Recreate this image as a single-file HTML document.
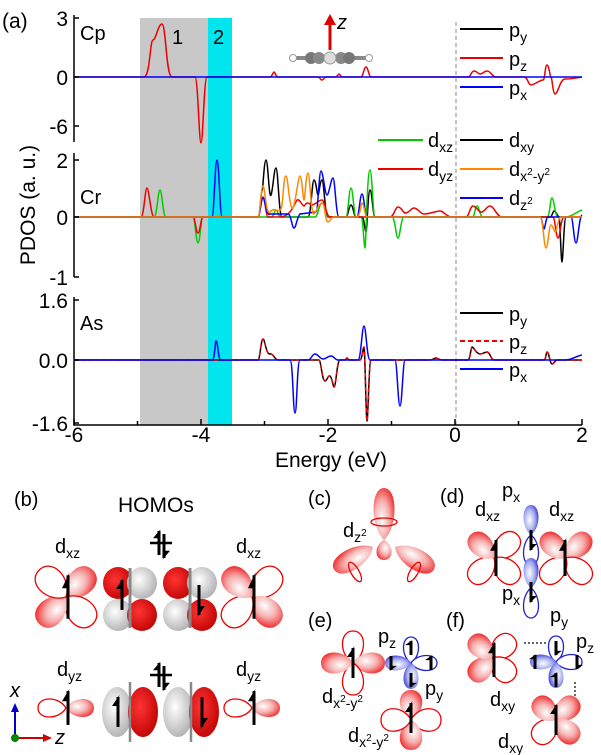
<!DOCTYPE html>
<html><head><meta charset="utf-8"><style>
html,body{margin:0;padding:0;background:#fff}
svg{display:block}
text{font-family:"Liberation Sans",Arial,sans-serif;fill:#000}
</style></head><body>
<svg width="601" height="755" viewBox="0 0 601 755" xmlns="http://www.w3.org/2000/svg" xmlns:xlink="http://www.w3.org/1999/xlink">
<defs>
<radialGradient id="rg" cx="0.4" cy="0.6" r="0.7"><stop offset="0" stop-color="#fff"/><stop offset="0.5" stop-color="#f6b0b0"/><stop offset="1" stop-color="#e22"/></radialGradient>
<radialGradient id="bg" cx="0.4" cy="0.5" r="0.7"><stop offset="0" stop-color="#fff"/><stop offset="0.5" stop-color="#aab0f0"/><stop offset="1" stop-color="#22c"/></radialGradient>
<radialGradient id="gg" cx="0.4" cy="0.4" r="0.7"><stop offset="0" stop-color="#fff"/><stop offset="1" stop-color="#aaa"/></radialGradient>
<radialGradient id="dr" cx="0.4" cy="0.4" r="0.7"><stop offset="0" stop-color="#f33"/><stop offset="1" stop-color="#b00"/></radialGradient>
<path id="l38" d="M0 0C18 -9.5 18 -38 0 -38C-18 -38 -18 -9.5 0 0Z"/>
<path id="l28" d="M0 0C12 -7 12 -28 0 -28C-12 -28 -12 -7 0 0Z"/>
<path id="l52" d="M0 0C14 -13 14 -52 0 -52C-14 -52 -14 -13 0 0Z"/>
<path id="l45" d="M0 0C14 -11 14 -45 0 -45C-14 -45 -14 -11 0 0Z"/>
<path id="l20" d="M0 0C10 -5 10 -20 0 -20C-10 -20 -10 -5 0 0Z"/>
<path id="l33" d="M0 0C15 -8 15 -33 0 -33C-15 -33 -15 -8 0 0Z"/>
<path id="l30p" d="M0 0C10 -7.5 10 -30 0 -30C-10 -30 -10 -7.5 0 0Z"/>
<path id="l32" d="M0 0C14 -8 14 -32 0 -32C-14 -32 -14 -8 0 0Z"/>
<path id="l30" d="M0 0C15 -7.5 15 -30 0 -30C-15 -30 -15 -7.5 0 0Z"/>
<path id="l26" d="M0 0C10 -6.5 10 -26 0 -26C-10 -26 -10 -6.5 0 0Z"/>
<g id="su"><line x1="0" y1="-15" x2="0" y2="15" stroke="#000" stroke-width="3"/><polygon points="1.5,-17 -6,-6 -1.5,-6" fill="#000"/></g>
<g id="sd"><line x1="0" y1="-15" x2="0" y2="15" stroke="#000" stroke-width="3"/><polygon points="-1.5,17 6,6 1.5,6" fill="#000"/></g>
</defs>
<rect x="140" y="18" width="68" height="407" fill="#c8c8c8"/>
<rect x="208" y="18" width="24" height="407" fill="#00e5ee"/>
<line x1="456" y1="22" x2="456" y2="425" stroke="#888" stroke-width="1" stroke-dasharray="4,3"/>
<g fill="none" stroke-width="1.5">
<path stroke="#e00" d="M74 77 L144 77 C150 77 150 40 153 40 C156 40 158 24 162 24 C166 24 166 77 172 77 L195 77 C198 77 199 143 201 143 C203 143 204 77 207 77 L270 77 C272 77 273 72 274 72 C275 72 276 77 278 77 L318 77 C320 77 320 80 322 80 C324 80 324 77 326 77 L336 77 L339 74 L342 77 L361 77 C363 77 364 67 366 67 C368 67 369 77 371 77 L468 77 C471 77 471 71 474 71 C477 71 478 74 480 74 C483 74 484 71 487 71 C491 71 492 77 496 77 L524 77 C528 77 528 85 531 85 C534 85 540 80 543 80 C545 80 545 65 547 65 C549 65 550 77 551 77 C552 77 553 94 555 94 C558 94 560 79 565 79 C572 79 576 78 582 77"/>
<path stroke="#00f" d="M74 77 H582"/>
<path stroke="#000" d="M74 217 L258 217 C260 217 261 191 262 191 C263 191 264 160 266 160 C268 160 269 200 271 195 C273 190 274 168 276 168 C278 168 279 217 282 217 L308 217 C311 217 312 180 314 180 C316 180 317 195 318 195 C319 195 320 180 322 180 C324 180 325 217 328 217 L346 217 C348 217 349 205 351 205 C353 205 354 217 356 217 L362 217 C364 217 365 232 366 232 C367 232 368 190 370 190 C372 190 373 217 375 217 L550 217 C552 217 553 211 554 211 C556 211 558 217 559 217 C560 217 561 262 562 262 C563 262 564 217 566 217 L582 217"/>
<path stroke="#0c0" d="M74 217 L154 217 C157 217 158 190 160 190 C162 190 163 217 166 217 L193 217 C195 217 196 243 198 243 C200 243 201 217 203 217 L271 217 C274 217 274 210 276 210 C278 210 278 217 281 217 L315 217 C318 217 319 203 322 203 C325 203 326 217 329 217 L346 217 C348 217 349 188 351 188 C353 188 354 217 356 217 L361 217 C363 217 364 248 365 248 C366 248 367 170 370 170 C372 170 373 217 375 217 L392 217 C395 217 396 238 398 238 C400 238 401 217 404 217 L472 217 C475 217 475 206 477 206 C479 206 480 217 483 217 L547 217 C550 217 550 198 552 198 C554 198 555 217 558 217 L565 217 C572 217 576 212 582 210"/>
<path stroke="#e00" d="M74 217 L141 217 C144 217 145 188 147 188 C149 188 151 217 154 217 L193 217 C195 217 196 233 198 233 C200 233 201 217 203 217 L258 217 C260 217 261 197 263 197 C265 197 266 217 268 217 L280 217 C290 217 294 205 297 200 C300 198 303 209 305 205 C307 202 308 203 310 204 C314 207 318 200 322 200 C325 200 326 217 330 217 L390 217 C394 217 395 207 398 207 C402 207 403 214 406 213 C410 212 411 208 414 208 C418 208 420 214 424 214 C430 214 436 211 440 211 C444 211 446 217 452 217 L466 217 C469 217 470 206 473 206 C476 206 479 213 482 212 C485 211 487 206 490 206 C494 206 497 217 502 217 L553 217 C555 217 556 238 558 238 C560 238 561 217 564 217 L582 217"/>
<path stroke="#00f" d="M74 217 L212 217 C214 217 215 160 217 160 C219 160 220 217 222 217 L258 217 C260 217 261 198 263 198 C265 198 266 217 270 214 L288 214 C291 214 292 228 294 228 C296 228 297 217 300 214 L316 212 C318 212 319 171 321 171 C323 171 325 195 327 195 C329 195 331 178 333 178 C335 178 336 217 339 217 L357 217 C359 217 360 194 362 194 C364 194 365 217 367 217 L540 217 C542 217 543 229 544 229 C545 229 546 217 548 217 L571 217 C573 217 574 243 576 243 C578 243 579 217 582 215"/>
<path stroke="#f80" d="M74 217 L258 217 C260 217 261 186 263 186 C265 186 266 217 270 212 C276 205 280 217 282 205 C284 186 284 176 286 176 C288 176 289 205 292 208 C295 210 298 176 300 176 C302 176 303 200 304 200 C305 200 306 173 308 173 C310 173 311 217 314 214 C317 211 319 203 322 203 C325 203 325 222 328 222 C330 222 331 217 334 217 L357 217 C360 217 361 203 362 203 C364 203 365 217 367 217 L540 217 C543 217 544 248 546 248 C548 248 549 225 551 225 C553 225 554 232 555 232 C557 232 558 217 561 217 L582 217"/>
<path stroke="#000" d="M74 360 L258 360 C260 360 261 339 263 339 C265 339 266 355 270 354 C273 353 275 360 278 360 L319 360 C321 360 322 381 325 381 C327 381 328 375 330 376 C332 377 333 387 334 387 C336 387 337 360 340 360 L345 360 L347 358 L349 360 L360 360 C362 360 363 347 364 347 C365 347 366 421 367 421 C368 421 369 360 371 360 L430 360 C433 360 434 358 436 358 C438 358 439 360 442 360 L468 360 C470 360 471 347 472 347 C474 347 476 354 480 354 C483 354 485 352 487 352 C490 352 491 360 494 360 L544 360 C546 360 546 352 547 352 C549 352 550 364 552 364 C554 364 555 360 557 360 L582 360"/>
<path stroke="#e00" stroke-dasharray="4,3" d="M74 360 L258 360 C260 360 261 339 263 339 C265 339 266 355 270 354 C273 353 275 360 278 360 L319 360 C321 360 322 381 325 381 C327 381 328 375 330 376 C332 377 333 387 334 387 C336 387 337 360 340 360 L345 360 L347 358 L349 360 L360 360 C362 360 363 347 364 347 C365 347 366 421 367 421 C368 421 369 360 371 360 L430 360 C433 360 434 358 436 358 C438 358 439 360 442 360 L468 360 C470 360 471 347 472 347 C474 347 476 354 480 354 C483 354 485 352 487 352 C490 352 491 360 494 360 L544 360 C546 360 546 352 547 352 C549 352 550 364 552 364 C554 364 555 360 557 360 L582 360"/>
<path stroke="#00f" d="M74 360 L212 360 C215 360 215 341 216 341 C218 341 218 360 221 360 L290 360 C293 360 293 413 295 413 C297 413 297 360 300 360 L308 360 C311 360 312 354 315 354 C318 354 320 359 323 359 C326 359 328 356 331 356 C334 356 335 360 338 360 L358 360 C361 360 362 326 364 326 C366 326 367 360 370 360 L395 360 C397 360 398 406 400 406 C402 406 403 360 405 360 L565 360 C572 360 576 356 582 355"/>
</g>
<g stroke="#000" stroke-width="1.5" fill="none">
<path d="M74 15V142M74 153V277M74 297V425H582"/>
<path d="M74 18h5M74 77h5M74 126h5M74 160h5M74 217h5M74 277h5M74 300h5M74 360h5M74 423h5"/>
<path d="M74 425v-6M137.5 425v-4M201 425v-6M264.5 425v-4M328 425v-6M391.5 425v-4M455 425v-6M518.5 425v-4M582 425v-6"/>
</g>
<g font-size="21" text-anchor="end">
<text x="68" y="26">3</text><text x="68" y="85">0</text><text x="68" y="134">-6</text>
<text x="68" y="168">2</text><text x="68" y="225">0</text><text x="68" y="285">-1</text>
<text x="68" y="308">1.6</text><text x="68" y="368">0.0</text><text x="68" y="431">-1.6</text>
</g>
<g font-size="21" text-anchor="middle">
<text x="74" y="442">-6</text><text x="201" y="442">-4</text><text x="328" y="442">-2</text><text x="455" y="442">0</text><text x="582" y="442">2</text>
<text x="331" y="467">Energy (eV)</text>
</g>
<text font-size="21" transform="translate(35,205) rotate(-90)" text-anchor="middle">PDOS (a. u.)</text>
<text x="2" y="28" font-size="21">(a)</text>
<text x="80" y="40" font-size="20">Cp</text>
<text x="80" y="204" font-size="20">Cr</text>
<text x="80" y="330" font-size="20">As</text>
<text x="172" y="44" font-size="20">1</text>
<text x="213" y="44" font-size="20">2</text>
<line x1="330" y1="50" x2="330" y2="24" stroke="#d00" stroke-width="3"/>
<polygon points="324,25 336,25 330,14" fill="#d00"/>
<text x="337" y="29" font-size="20" font-style="italic">z</text>
<line x1="293" y1="58" x2="369" y2="58" stroke="#888" stroke-width="4"/>
<circle cx="293" cy="58" r="3.5" fill="#fff" stroke="#999"/><circle cx="369" cy="58" r="3.5" fill="#fff" stroke="#999"/>
<circle cx="311" cy="58" r="6" fill="#777"/><circle cx="319" cy="58" r="6" fill="#888"/><circle cx="341" cy="58" r="6" fill="#888"/><circle cx="349" cy="58" r="6" fill="#777"/><circle cx="330" cy="58" r="6" fill="#ddd" stroke="#999"/>
<g stroke-width="2">
<line x1="460" y1="29" x2="503" y2="29" stroke="#000"/><line x1="460" y1="58" x2="503" y2="58" stroke="#e00"/><line x1="460" y1="87" x2="503" y2="87" stroke="#00f"/>
<line x1="378" y1="140" x2="423" y2="140" stroke="#0c0"/><line x1="378" y1="169" x2="423" y2="169" stroke="#e00"/>
<line x1="460" y1="140" x2="503" y2="140" stroke="#000"/><line x1="460" y1="169" x2="503" y2="169" stroke="#f80"/><line x1="460" y1="198" x2="503" y2="198" stroke="#00f"/>
<line x1="460" y1="313" x2="503" y2="313" stroke="#000"/><line x1="460" y1="341" x2="503" y2="341" stroke="#e00" stroke-dasharray="5,3"/><line x1="460" y1="369" x2="503" y2="369" stroke="#00f"/>
</g>
<g font-size="20">
<text x="509" y="37">p<tspan font-size="14" dy="5">y</tspan></text>
<text x="509" y="66">p<tspan font-size="14" dy="5">z</tspan></text>
<text x="509" y="95">p<tspan font-size="14" dy="5">x</tspan></text>
<text x="428" y="147">d<tspan font-size="14" dy="5">xz</tspan></text>
<text x="428" y="176">d<tspan font-size="14" dy="5">yz</tspan></text>
<text x="509" y="147">d<tspan font-size="14" dy="5">xy</tspan></text>
<text x="509" y="176">d<tspan font-size="14" dy="5">x</tspan><tspan font-size="10" dy="-6">2</tspan><tspan font-size="14" dy="6">-y</tspan><tspan font-size="10" dy="-6">2</tspan></text>
<text x="509" y="205">d<tspan font-size="14" dy="5">z</tspan><tspan font-size="10" dy="-6">2</tspan></text>
<text x="509" y="321">p<tspan font-size="14" dy="5">y</tspan></text>
<text x="509" y="349">p<tspan font-size="14" dy="5">z</tspan></text>
<text x="509" y="377">p<tspan font-size="14" dy="5">x</tspan></text>
</g>
<g stroke-width="1.3">
<use xlink:href="#l38" href="#l38" transform="translate(66 597) rotate(45)" fill="url(#rg)"/>
<use xlink:href="#l38" href="#l38" transform="translate(66 597) rotate(135)" fill="#fff" stroke="#e00"/>
<use xlink:href="#l38" href="#l38" transform="translate(66 597) rotate(225)" fill="url(#rg)"/>
<use xlink:href="#l38" href="#l38" transform="translate(66 597) rotate(315)" fill="#fff" stroke="#e00"/>
<use xlink:href="#l38" href="#l38" transform="translate(252 597) rotate(45)" fill="#fff" stroke="#e00"/>
<use xlink:href="#l38" href="#l38" transform="translate(252 597) rotate(135)" fill="url(#rg)"/>
<use xlink:href="#l38" href="#l38" transform="translate(252 597) rotate(225)" fill="#fff" stroke="#e00"/>
<use xlink:href="#l38" href="#l38" transform="translate(252 597) rotate(315)" fill="url(#rg)"/>
</g>
<ellipse cx="118" cy="583" rx="15" ry="16" fill="url(#dr)"/><ellipse cx="142" cy="583" rx="15" ry="16" fill="url(#gg)"/>
<ellipse cx="118" cy="615" rx="15" ry="16" fill="url(#gg)"/><ellipse cx="142" cy="615" rx="15" ry="16" fill="url(#dr)"/>
<ellipse cx="178" cy="583" rx="15" ry="16" fill="url(#dr)"/><ellipse cx="202" cy="583" rx="15" ry="16" fill="url(#gg)"/>
<ellipse cx="178" cy="615" rx="15" ry="16" fill="url(#gg)"/><ellipse cx="202" cy="615" rx="15" ry="16" fill="url(#dr)"/>
<line x1="130" y1="568" x2="130" y2="628" stroke="#888" stroke-width="3"/><line x1="190" y1="568" x2="190" y2="628" stroke="#888" stroke-width="3"/>
<g stroke-width="1.3">
<use xlink:href="#l28" href="#l28" transform="translate(66 708) rotate(-90)" fill="#fff" stroke="#e00"/>
<use xlink:href="#l28" href="#l28" transform="translate(66 708) rotate(90)" fill="url(#rg)"/>
<use xlink:href="#l28" href="#l28" transform="translate(252 708) rotate(-90)" fill="#fff" stroke="#e00"/>
<use xlink:href="#l28" href="#l28" transform="translate(252 708) rotate(90)" fill="url(#rg)"/>
</g>
<ellipse cx="117" cy="712" rx="15" ry="25" fill="url(#gg)"/><ellipse cx="143" cy="712" rx="15" ry="25" fill="url(#dr)"/>
<ellipse cx="178" cy="712" rx="15" ry="25" fill="url(#gg)"/><ellipse cx="204" cy="712" rx="15" ry="25" fill="url(#dr)"/>
<line x1="130" y1="682" x2="130" y2="742" stroke="#888" stroke-width="2.5"/><line x1="191" y1="682" x2="191" y2="742" stroke="#888" stroke-width="2.5"/>
<line x1="150" y1="543" x2="172" y2="543" stroke="#000" stroke-width="2.5"/>
<line x1="150" y1="675" x2="172" y2="675" stroke="#000" stroke-width="2.5"/>
<use xlink:href="#su" href="#su" transform="translate(159 543) scale(1 0.8)"/><use xlink:href="#sd" href="#sd" transform="translate(164 546) scale(1 0.8)"/>
<use xlink:href="#su" href="#su" transform="translate(159 675) scale(1 0.8)"/><use xlink:href="#sd" href="#sd" transform="translate(164 678) scale(1 0.8)"/>
<use xlink:href="#su" href="#su" transform="translate(68 597) scale(1 1.45)"/><use xlink:href="#su" href="#su" transform="translate(254 597) scale(1 1.45)"/>
<use xlink:href="#su" href="#su" transform="translate(122 595)"/><use xlink:href="#sd" href="#sd" transform="translate(199 600)"/>
<use xlink:href="#su" href="#su" transform="translate(68 708) scale(1 1.13)"/><use xlink:href="#su" href="#su" transform="translate(254 708) scale(1 1.13)"/>
<use xlink:href="#su" href="#su" transform="translate(118 712)"/><use xlink:href="#sd" href="#sd" transform="translate(202 712)"/>
<line x1="15" y1="738" x2="15" y2="710" stroke="#00c" stroke-width="2"/><polygon points="11,712 19,712 15,703" fill="#00c"/>
<line x1="15" y1="738" x2="44" y2="738" stroke="#c00" stroke-width="2"/><polygon points="43,734 43,742 52,738" fill="#c00"/>
<circle cx="15" cy="738" r="4" fill="#080"/>
<use xlink:href="#l52" href="#l52" transform="translate(384 540)" fill="url(#rg)"/>
<use xlink:href="#l45" href="#l45" transform="translate(373 547) rotate(-120)" fill="url(#rg)"/>
<use xlink:href="#l45" href="#l45" transform="translate(395 547) rotate(120)" fill="url(#rg)"/>
<use xlink:href="#l20" href="#l20" transform="translate(384 540) rotate(180)" fill="url(#rg)"/>
<ellipse cx="384" cy="522" rx="13" ry="4" fill="none" stroke="#e00" stroke-width="1.3"/>
<ellipse cx="355" cy="572" rx="4" ry="11" fill="none" stroke="#e00" stroke-width="1.3" transform="rotate(-30 355 572)"/>
<ellipse cx="414" cy="572" rx="4" ry="11" fill="none" stroke="#e00" stroke-width="1.3" transform="rotate(30 414 572)"/>
<g stroke-width="1.3">
<use xlink:href="#l33" href="#l33" transform="translate(494 558) rotate(45)" fill="#fff" stroke="#e00"/>
<use xlink:href="#l33" href="#l33" transform="translate(494 558) rotate(135)" fill="#fff" stroke="#e00"/>
<use xlink:href="#l33" href="#l33" transform="translate(494 558) rotate(225)" fill="#fff" stroke="#e00"/>
<use xlink:href="#l33" href="#l33" transform="translate(494 558) rotate(315)" fill="url(#rg)"/>
<use xlink:href="#l33" href="#l33" transform="translate(566 558) rotate(45)" fill="url(#rg)"/>
<use xlink:href="#l33" href="#l33" transform="translate(566 558) rotate(135)" fill="#fff" stroke="#e00"/>
<use xlink:href="#l33" href="#l33" transform="translate(566 558) rotate(225)" fill="#fff" stroke="#e00"/>
<use xlink:href="#l33" href="#l33" transform="translate(566 558) rotate(315)" fill="url(#rg)"/>
<use xlink:href="#l30p" href="#l30p" transform="translate(531 535)" fill="url(#bg)"/>
<use xlink:href="#l30p" href="#l30p" transform="translate(531 535) rotate(180)" fill="#fff" stroke="#22c"/>
<use xlink:href="#l30p" href="#l30p" transform="translate(531 588)" fill="url(#bg)"/>
<use xlink:href="#l30p" href="#l30p" transform="translate(531 588) rotate(180)" fill="#fff" stroke="#22c"/>
</g>
<use xlink:href="#su" href="#su" transform="translate(496 558) scale(1 1.2)"/><use xlink:href="#su" href="#su" transform="translate(565 558) scale(1 1.2)"/>
<use xlink:href="#sd" href="#sd" transform="translate(531 540) scale(1 0.67)"/><use xlink:href="#sd" href="#sd" transform="translate(531 592) scale(1 0.67)"/>
<g stroke-width="1.3">
<use xlink:href="#l32" href="#l32" transform="translate(353 663)" fill="#fff" stroke="#e00"/>
<use xlink:href="#l32" href="#l32" transform="translate(353 663) rotate(90)" fill="url(#rg)"/>
<use xlink:href="#l32" href="#l32" transform="translate(353 663) rotate(180)" fill="#fff" stroke="#e00"/>
<use xlink:href="#l32" href="#l32" transform="translate(353 663) rotate(270)" fill="url(#rg)"/>
<use xlink:href="#l26" href="#l26" transform="translate(411 663)" fill="#fff" stroke="#22c"/>
<use xlink:href="#l26" href="#l26" transform="translate(411 663) rotate(90)" fill="#fff" stroke="#22c"/>
<use xlink:href="#l26" href="#l26" transform="translate(411 663) rotate(180)" fill="url(#bg)"/>
<use xlink:href="#l26" href="#l26" transform="translate(411 663) rotate(270)" fill="url(#bg)"/>
<use xlink:href="#l30" href="#l30" transform="translate(411 720)" fill="url(#rg)"/>
<use xlink:href="#l30" href="#l30" transform="translate(411 720) rotate(90)" fill="#fff" stroke="#e00"/>
<use xlink:href="#l30" href="#l30" transform="translate(411 720) rotate(180)" fill="url(#rg)"/>
<use xlink:href="#l30" href="#l30" transform="translate(411 720) rotate(270)" fill="#fff" stroke="#e00"/>
</g>
<use xlink:href="#su" href="#su" transform="translate(353 663)"/>
<use xlink:href="#sd" href="#sd" transform="translate(391 663) scale(1 0.47)"/><use xlink:href="#su" href="#su" transform="translate(411 648) scale(1 0.47)"/>
<use xlink:href="#su" href="#su" transform="translate(431 663) scale(1 0.47)"/><use xlink:href="#sd" href="#sd" transform="translate(411 680) scale(1 0.47)"/>
<use xlink:href="#su" href="#su" transform="translate(411 718)"/>
<g stroke-width="1.3">
<use xlink:href="#l30" href="#l30" transform="translate(492 658) rotate(45)" fill="#fff" stroke="#e00"/>
<use xlink:href="#l30" href="#l30" transform="translate(492 658) rotate(135)" fill="#fff" stroke="#e00"/>
<use xlink:href="#l30" href="#l30" transform="translate(492 658) rotate(225)" fill="url(#rg)"/>
<use xlink:href="#l30" href="#l30" transform="translate(492 658) rotate(315)" fill="url(#rg)"/>
<use xlink:href="#l26" href="#l26" transform="translate(556 662)" fill="#fff" stroke="#22c"/>
<use xlink:href="#l26" href="#l26" transform="translate(556 662) rotate(90)" fill="#fff" stroke="#22c"/>
<use xlink:href="#l26" href="#l26" transform="translate(556 662) rotate(180)" fill="url(#bg)"/>
<use xlink:href="#l26" href="#l26" transform="translate(556 662) rotate(270)" fill="url(#bg)"/>
<use xlink:href="#l30" href="#l30" transform="translate(556 720) rotate(45)" fill="url(#rg)"/>
<use xlink:href="#l30" href="#l30" transform="translate(556 720) rotate(135)" fill="url(#rg)"/>
<use xlink:href="#l30" href="#l30" transform="translate(556 720) rotate(225)" fill="#fff" stroke="#e00"/>
<use xlink:href="#l30" href="#l30" transform="translate(556 720) rotate(315)" fill="url(#rg)"/>
</g>
<use xlink:href="#su" href="#su" transform="translate(494 660) scale(1 1.13)"/>
<use xlink:href="#sd" href="#sd" transform="translate(556 648) scale(1 0.47)"/><use xlink:href="#su" href="#su" transform="translate(535 662) scale(1 0.47)"/>
<use xlink:href="#sd" href="#sd" transform="translate(577 662) scale(1 0.47)"/><use xlink:href="#su" href="#su" transform="translate(556 680) scale(1 0.47)"/>
<use xlink:href="#su" href="#su" transform="translate(556 720)"/>
<line x1="524" y1="643" x2="546" y2="643" stroke="#333" stroke-width="1.5" stroke-dasharray="2,2"/>
<line x1="575" y1="682" x2="575" y2="698" stroke="#333" stroke-width="1.5" stroke-dasharray="2,2"/>
<g font-size="20">
<text x="14" y="506">(b)</text>
<text x="118" y="512" font-size="21">HOMOs</text>
<text x="55" y="553">d<tspan font-size="14" dy="5">xz</tspan></text>
<text x="236" y="553">d<tspan font-size="14" dy="5">xz</tspan></text>
<text x="57" y="676">d<tspan font-size="14" dy="5">yz</tspan></text>
<text x="236" y="676">d<tspan font-size="14" dy="5">yz</tspan></text>
<text x="10" y="697" font-style="italic">x</text>
<text x="55" y="744" font-style="italic">z</text>
<text x="308" y="505">(c)</text>
<text x="343" y="537">d<tspan font-size="14" dy="5">z</tspan><tspan font-size="10" dy="-6">2</tspan></text>
<text x="440" y="503">(d)</text>
<text x="502" y="497">p<tspan font-size="14" dy="5">x</tspan></text>
<text x="475" y="516">d<tspan font-size="14" dy="5">xz</tspan></text>
<text x="549" y="516">d<tspan font-size="14" dy="5">xz</tspan></text>
<text x="502" y="600">p<tspan font-size="14" dy="5">x</tspan></text>
<text x="308" y="627">(e)</text>
<text x="378" y="643">p<tspan font-size="14" dy="5">z</tspan></text>
<text x="425" y="695">p<tspan font-size="14" dy="5">y</tspan></text>
<text x="322" y="703">d<tspan font-size="14" dy="5">x</tspan><tspan font-size="10" dy="-6">2</tspan><tspan font-size="14" dy="6">-y</tspan><tspan font-size="10" dy="-6">2</tspan></text>
<text x="348" y="742">d<tspan font-size="14" dy="5">x</tspan><tspan font-size="10" dy="-6">2</tspan><tspan font-size="14" dy="6">-y</tspan><tspan font-size="10" dy="-6">2</tspan></text>
<text x="446" y="627">(f)</text>
<text x="550" y="622">p<tspan font-size="14" dy="5">y</tspan></text>
<text x="576" y="648">p<tspan font-size="14" dy="5">z</tspan></text>
<text x="490" y="706">d<tspan font-size="14" dy="5">xy</tspan></text>
<text x="498" y="748">d<tspan font-size="14" dy="5">xy</tspan></text>
</g>
</svg>
</body></html>
